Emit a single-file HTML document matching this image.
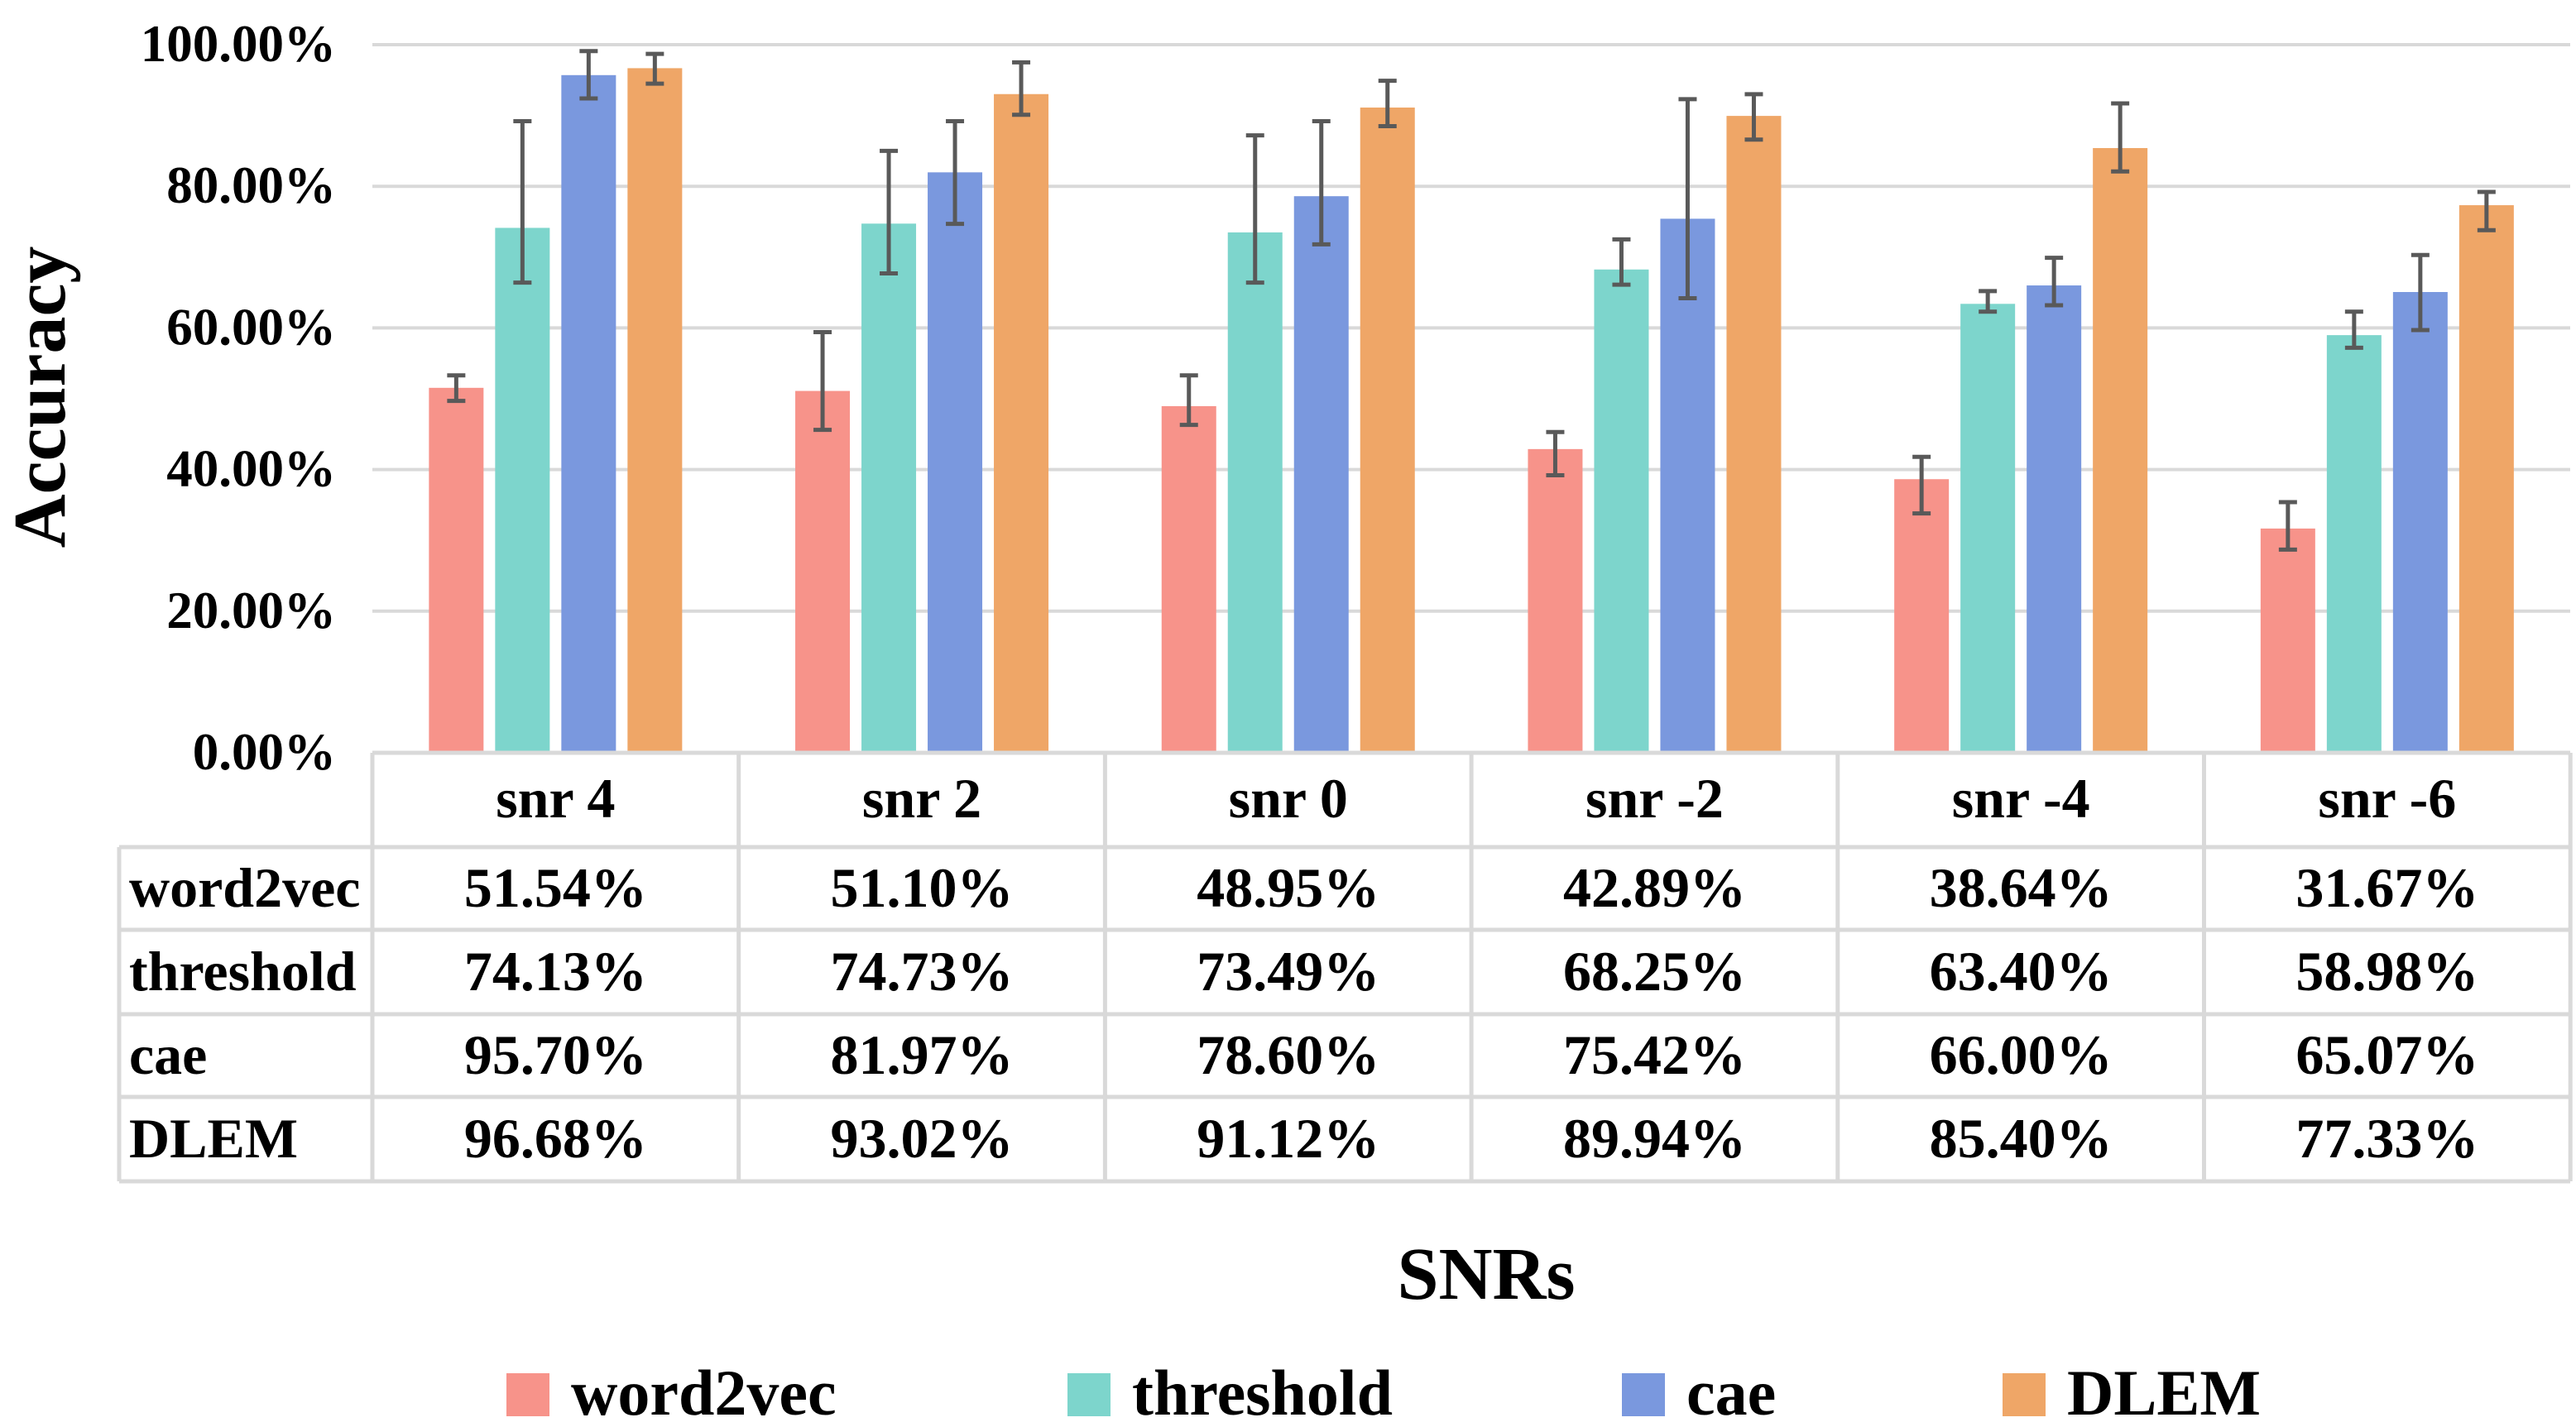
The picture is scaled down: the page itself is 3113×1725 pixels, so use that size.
<!DOCTYPE html>
<html><head><meta charset="utf-8">
<style>
html,body{margin:0;padding:0;background:#fff;}
svg{display:block;font-family:"Liberation Serif",serif;font-weight:bold;}
</style></head>
<body>
<svg id="chart" width="3113" height="1725" viewBox="0 0 3113 1725" xmlns="http://www.w3.org/2000/svg">
<g id="grid"></g>
<g id="yticks"></g>
<text transform="translate(78,480) rotate(-90)" text-anchor="middle" font-size="90">Accuracy</text>
<g id="bars"></g>
<g id="errs"></g>
<g id="table"></g>
<text x="1796" y="1570" text-anchor="middle" font-size="90">SNRs</text>
<g id="legend"></g>
</svg>
<script>
const categories = ["snr 4","snr 2","snr 0","snr -2","snr -4","snr -6"];
const seriesNames = ["word2vec","threshold","cae","DLEM"];
const word2vec = [51.54,51.10,48.95,42.89,38.64,31.67];
const threshold = [74.13,74.73,73.49,68.25,63.40,58.98];
const cae = [95.70,81.97,78.60,75.42,66.00,65.07];
const dlem = [96.68,93.02,91.12,89.94,85.40,77.33];
const hiWord2vec = [53.3,59.4,53.3,45.3,41.8,35.4];
const loWord2vec = [49.7,45.6,46.3,39.2,33.8,28.7];
const hiThreshold = [89.2,85.0,87.2,72.5,65.2,62.3];
const loThreshold = [66.4,67.7,66.4,66.1,62.3,57.2];
const hiCae = [99.1,89.2,89.2,92.3,69.9,70.3];
const loCae = [92.4,74.7,71.8,64.2,63.2,59.7];
const hiDlem = [98.7,97.5,94.9,93.0,91.7,79.2];
const loDlem = [94.5,90.1,88.5,86.6,82.1,73.8];
const yTicks = [0,20,40,60,80,100];

const series = [word2vec, threshold, cae, dlem];
const his = [hiWord2vec, hiThreshold, hiCae, hiDlem];
const los = [loWord2vec, loThreshold, loCae, loDlem];
const colors = ["#F7938A","#7DD5CC","#7A98DE","#EFA667"];
const NS = "http://www.w3.org/2000/svg";
const plotL = 450, colW = 442.7, y0 = 910, y100 = 54;
const y = v => y0 - (v/100)*(y0 - y100);
const xc = i => plotL + colW*(i+0.5);
const barW = 66, barStep = 80;
function mk(tag, attrs, parent){const e=document.createElementNS(NS,tag);for(const k in attrs)e.setAttribute(k,attrs[k]);parent.appendChild(e);return e;}
const grid=document.getElementById('grid'), yt=document.getElementById('yticks');
yTicks.forEach(t=>{
  if(t>0){const l=mk('line',{x1:plotL,x2:3106,y1:y(t),y2:y(t),stroke:'#d9d9d9','stroke-width':4},grid);
  
  }
  const tx=mk('text',{x:406,y:y(t)+20,'text-anchor':'end','font-size':63},yt);
  tx.textContent=t.toFixed(2)+'%';
  
  
});
const bars=document.getElementById('bars'), eg=document.getElementById('errs');
series.forEach((s,si)=>{
  s.forEach((v,ci)=>{
    const cx = xc(ci) + (si-1.5)*barStep;
    const r=mk('rect',{x:cx-barW/2,y:y(v),width:barW,height:y0-y(v),fill:colors[si]},bars);
    
    
    const t=y(his[si][ci]), b=y(los[si][ci]);
    const p=mk('path',{d:`M${cx},${t}V${b}M${cx-11},${t}H${cx+11}M${cx-11},${b}H${cx+11}`,stroke:'#595959','stroke-width':5,fill:'none'},eg);
    
    
  });
});
const tb=document.getElementById('table');
const rowsY=[910,1024,1124,1226,1326,1428];
const bc='#d9d9d9', bw=5;
rowsY.forEach((ry,i)=>{
  const l=mk('line',{x1:i===0?plotL:144,x2:3106,y1:ry,y2:ry,stroke:bc,'stroke-width':bw},tb);
  
  
});
for(let i=0;i<=6;i++){
  const x=plotL+colW*i;
  const l=mk('line',{x1:x,x2:x,y1:910,y2:1428,stroke:bc,'stroke-width':bw},tb);
  
  
}
const l0=mk('line',{x1:144,x2:144,y1:1024,y2:1428,stroke:bc,'stroke-width':bw},tb);


categories.forEach((c,ci)=>{
  const t=mk('text',{x:xc(ci),y:988,'text-anchor':'middle','font-size':68},tb);
  t.textContent=c;
  
  
});
series.forEach((s,si)=>{
  const ry=(rowsY[si+1]+rowsY[si+2])/2+22;
  const n=mk('text',{x:156,y:ry,'font-size':68},tb);
  n.textContent=seriesNames[si];
  
  
  s.forEach((v,ci)=>{
    const t=mk('text',{x:xc(ci),y:ry,'text-anchor':'middle','font-size':68},tb);
    t.textContent=v.toFixed(2)+'%';
    
    
  });
});
const lg=document.getElementById('legend');
const legX=[612,1290,1960,2420];
seriesNames.forEach((n,si)=>{
  const g=mk('g',{},lg);
  
  
  mk('rect',{x:legX[si],y:1660,width:52,height:52,fill:colors[si]},g);
  const t=mk('text',{x:legX[si]+78,y:1710,'font-size':78},g);
  t.textContent=n;
});
</script>
</body></html>
